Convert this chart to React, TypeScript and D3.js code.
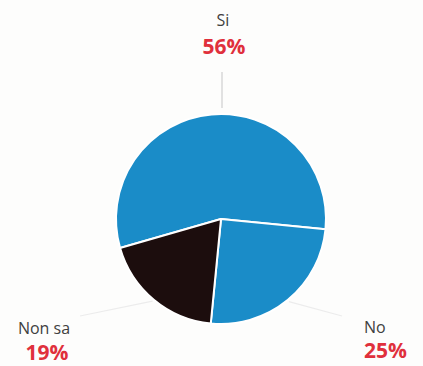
import React from "react";
import * as d3 from "d3";

const categories = ["Si", "No", "Non sa"];
const values = [56, 25, 19];
const labels = ["56%", "25%", "19%"];
const colors = ["#1a8cc8", "#1a8cc8", "#1c0d0d"];

const W = 423;
const H = 366;
const cx = 221;
const cy = 219;
const R = 105;

export default function App() {
  const startDeg = -106;
  const pie = d3
    .pie<number>()
    .sort(null)
    .value((d) => d)
    .startAngle((startDeg * Math.PI) / 180)
    .endAngle(((startDeg + 360) * Math.PI) / 180);
  const arcs = pie(values);
  const arc = d3.arc<d3.PieArcDatum<number>>().innerRadius(0).outerRadius(R);

  const labelPos = [
    { x1: 223, y1: 26, x2: 224, y2: 54, anchor: "middle" },
    { x1: 364, y1: 333, x2: 364, y2: 358, anchor: "start" },
    { x1: 44, y1: 334, x2: 47, y2: 360, anchor: "middle" },
  ];
  const leaderInner = [
    [222, cy - R - 6],
    null,
    null,
  ] as (number[] | null)[];
  const leaderOuter = [
    [222, 72],
    [342, 316],
    [80, 316],
  ];

  return (
    <svg
      width={W}
      height={H}
      style={{ position: "absolute", left: 0, top: 0, background: "#fdfdfc" }}
      fontFamily="'Open Sans', 'Liberation Sans', sans-serif"
    >
      {arcs.map((a, i) => {
        const mid = (a.startAngle + a.endAngle) / 2;
        const inner = leaderInner[i] || [
          cx + Math.sin(mid) * (R + 2),
          cy - Math.cos(mid) * (R + 2),
        ];
        return (
          <line
            key={"l" + i}
            x1={inner[0]}
            y1={inner[1]}
            x2={leaderOuter[i][0]}
            y2={leaderOuter[i][1]}
            stroke={i === 0 ? "#cfcfcf" : "#ececec"}
            strokeWidth={1.2}
          />
        );
      })}
      <g transform={`translate(${cx},${cy})`}>
        {arcs.map((a, i) => (
          <path
            key={i}
            d={arc(a) || ""}
            fill={colors[i]}
            stroke="#ffffff"
            strokeWidth={2}
            strokeLinejoin="round"
          />
        ))}
      </g>
      {categories.map((c, i) => (
        <g key={"t" + i}>
          <text
            x={labelPos[i].x1}
            y={labelPos[i].y1}
            textAnchor={labelPos[i].anchor as any}
            fontSize={16}
            fill="#404040"
          >
            {c}
          </text>
          <text
            x={labelPos[i].x2}
            y={labelPos[i].y2}
            textAnchor={labelPos[i].anchor as any}
            fontSize={21}
            fontWeight="bold"
            fill="#e0303c"
          >
            {labels[i]}
          </text>
        </g>
      ))}
    </svg>
  );
}
